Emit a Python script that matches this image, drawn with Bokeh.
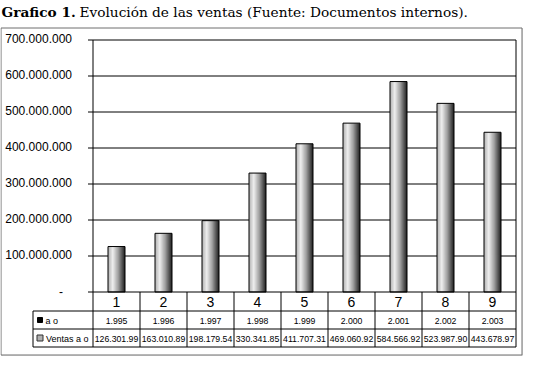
from bokeh.plotting import figure
from bokeh.models import Range1d
from bokeh.core.properties import value
from bokeh.embed import file_html
from bokeh.resources import INLINE

# ---------------- data ----------------
categories = ["1", "2", "3", "4", "5", "6", "7", "8", "9"]
years = [1995, 1996, 1997, 1998, 1999, 2000, 2001, 2002, 2003]
ventas = [126301990, 163010890, 198179540, 330341850, 411707310,
          469060920, 584566920, 523987900, 443678970]
y_ticks = [0, 100000000, 200000000, 300000000, 400000000,
           500000000, 600000000, 700000000]
row_year_label = "a o"
row_sales_label = "Ventas a o"
title_bold = "Grafico 1."
title_rest = "Evolución de las ventas (Fuente: Documentos internos)."

# ---------------- layout (pixels in figure) ----------------
W, H = 523, 356
n = len(categories)
CAT_PX = 47.0
PL = 92.5                 # plot area left
PR = PL + n * CAT_PX      # plot area right
PB = 291.5                # y of zero
PT = PB - 36.0 * (len(y_ticks) - 1)   # y of max tick
YMAX = y_ticks[-1]
ypx = (PB - PT) / YMAX

def X(px):
    return 0.5 + (px - PL) / CAT_PX

def Y(py):
    return (PB - py) / ypx

p = figure(width=W, height=H, x_range=Range1d(X(0), X(W)), y_range=Range1d(Y(H), Y(0)),
           x_axis_location=None, y_axis_location=None, toolbar_location=None,
           output_backend="svg", min_border=0, outline_line_color=None,
           background_fill_color="white", border_fill_color="white")
p.grid.visible = False

SANS = value("Liberation Sans")
SERIF = value("DejaVu Serif")

# chart area box with soft shadow
p.quad(left=[X(1.5)], right=[X(522.5)], top=[Y(28.5)], bottom=[Y(355.5)],
       fill_color=None, line_color="#d0d0d0", line_width=1)
p.quad(left=[X(0.5)], right=[X(521.5)], top=[Y(27.5)], bottom=[Y(354.5)],
       fill_color="white", line_color="#6e6e6e", line_width=1)

xs = list(range(1, n + 1))

# gridlines
grid_ticks = y_ticks[1:]
p.segment(x0=[0.5] * len(grid_ticks), x1=[n + 0.5] * len(grid_ticks),
          y0=grid_ticks, y1=grid_ticks, line_color="black", line_width=1)

# bars with a horizontal shaded gradient
BAR_W = 17.0 / CAT_PX
NS = 17
def shade(t):
    stops = [(0.0, 175), (0.28, 238), (0.6, 160), (1.0, 30)]
    for (t0, c0), (t1, c1) in zip(stops[:-1], stops[1:]):
        if t <= t1:
            c = c0 + (c1 - c0) * (t - t0) / (t1 - t0)
            break
    c = int(round(c))
    return "#%02x%02x%02x" % (c, c, c)

for k in range(NS):
    off = -BAR_W / 2 + (k + 0.5) * BAR_W / NS
    col = shade((k + 0.5) / NS)
    p.vbar(x=[x + off for x in xs], width=BAR_W / NS * 1.02, top=ventas, bottom=0,
           fill_color=col, line_color=None)
p.vbar(x=xs, width=BAR_W, top=ventas, bottom=0, fill_color=None,
       line_color="black", line_width=1)

# zero line, ticks, vertical lines
T_TOP, T_R1, T_R2 = 310.5, 328.5, 346.5
p.segment(x0=[0.5], x1=[n + 0.5], y0=[0], y1=[0], line_color="black", line_width=1)
p.segment(x0=[X(PL - 5)] * len(y_ticks), x1=[0.5] * len(y_ticks),
          y0=y_ticks, y1=y_ticks, line_color="black", line_width=1)
bounds = [i + 0.5 for i in range(n + 1)]
p.segment(x0=bounds, x1=bounds, y0=[Y(T_R2)] * len(bounds),
          y1=[0] * len(bounds), line_color="black", line_width=1)
p.segment(x0=[0.5, n + 0.5], x1=[0.5, n + 0.5], y0=[0, 0], y1=[YMAX, YMAX],
          line_color="black", line_width=1)

# data table lines
HX = X(32.5)
p.segment(x0=[HX] * 3, x1=[n + 0.5] * 3, y0=[Y(T_TOP), Y(T_R1), Y(T_R2)],
          y1=[Y(T_TOP), Y(T_R1), Y(T_R2)], line_color="black", line_width=1)
p.segment(x0=[HX], x1=[HX], y0=[Y(T_TOP)], y1=[Y(T_R2)], line_color="black", line_width=1)

# y tick labels
def dots(v):
    return f"{v:,}".replace(",", ".")

tick_labels = ["-" if t == 0 else dots(t) for t in y_ticks]
p.text(x=[0.5] * (len(y_ticks) - 1), y=y_ticks[1:], text=tick_labels[1:],
       x_offset=-21, y_offset=-2, text_align="right", text_baseline="middle",
       text_font=SANS, text_font_size="12px", text_color="black")
p.text(x=[0.5], y=[y_ticks[0]], text=[tick_labels[0]], x_offset=-32, y_offset=-1,
       text_align="center", text_baseline="middle",
       text_font=SANS, text_font_size="12px", text_color="black")

# table texts
p.text(x=xs, y=[Y((PB + T_TOP) / 2 + 0.5)] * n, text=categories, text_align="center",
       text_baseline="middle", text_font=SANS, text_font_size="14px", text_color="black")
p.text(x=xs, y=[Y((T_TOP + T_R1) / 2 + 0.5)] * n, text=[dots(y) for y in years],
       text_align="center", text_baseline="middle", text_font=SANS,
       text_font_size="8.7px", text_color="black")
p.text(x=xs, y=[Y((T_R1 + T_R2) / 2 + 0.5)] * n, text=[dots(v)[:-1] for v in ventas],
       text_align="center", text_baseline="middle", text_font=SANS,
       text_font_size="8.7px", text_color="black")

# row headers with legend keys
p.scatter(x=[X(39.5)], y=[Y((T_TOP + T_R1) / 2)], marker="square", size=5,
          fill_color="black", line_color="black")
p.scatter(x=[X(39.5)], y=[Y((T_R1 + T_R2) / 2)], marker="square", size=6,
          fill_color="#b0b0b0", line_color="#303030", line_width=1)
p.text(x=[X(45.0), X(45.5)], y=[Y((T_TOP + T_R1) / 2 + 0.5), Y((T_R1 + T_R2) / 2 + 0.5)],
       text=[row_year_label, row_sales_label], text_align="left", text_baseline="middle",
       text_font=SANS, text_font_size="9px", text_color="black")

# title
p.text(x=[X(1)], y=[Y(11)], text=[title_bold], text_align="left", text_baseline="alphabetic",
       text_font=SERIF, text_font_size="13.7px", text_font_style="bold", text_color="black")
p.text(x=[X(79)], y=[Y(11)], text=[title_rest], text_align="left",
       text_baseline="alphabetic", text_font=SERIF, text_font_size="13.7px", text_color="black")

open("out.html", "w").write(file_html(p, INLINE))
